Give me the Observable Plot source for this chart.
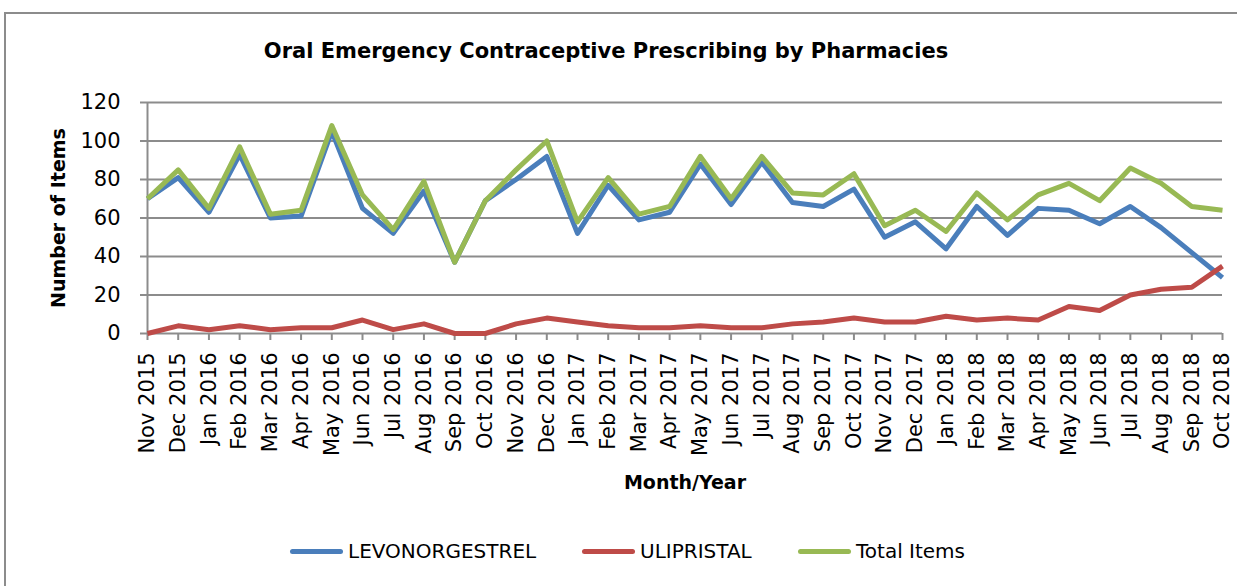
<!DOCTYPE html>
<html><head><meta charset="utf-8">
<script src="https://cdn.jsdelivr.net/npm/d3@7"></script>
<script src="https://cdn.jsdelivr.net/npm/@observablehq/plot@0.6"></script>
<style>
body{margin:0;background:#fff;width:1237px;height:586px;overflow:hidden;position:relative;font-family:"DejaVu Sans",sans-serif;}
#frame{position:absolute;left:4px;top:12px;width:1260px;height:600px;border:2px solid #8c8c8c;box-sizing:border-box;z-index:2;pointer-events:none;}
#wrap{position:absolute;left:0;top:0;width:1237px;z-index:1;}
#title{height:85px;box-sizing:border-box;padding-top:39px;width:1212px;text-align:center;font:bold 21px "DejaVu Sans",sans-serif;line-height:24px;color:#000;}
#chart svg{display:block;}
#legend{position:relative;height:76px;}
.item{position:absolute;top:29px;display:flex;align-items:center;font-size:20px;line-height:24px;color:#000;white-space:nowrap;}
.sw{width:53px;height:5px;border-radius:3px;margin-right:5px;}
</style></head>
<body>
<div id="frame"></div>
<div id="wrap">
<div id="title">Oral Emergency Contraceptive Prescribing by Pharmacies</div>
<div id="chart"></div>
<div id="legend"></div>
</div>
<script>
const months = ["Nov 2015","Dec 2015","Jan 2016","Feb 2016","Mar 2016","Apr 2016","May 2016","Jun 2016","Jul 2016","Aug 2016","Sep 2016","Oct 2016","Nov 2016","Dec 2016","Jan 2017","Feb 2017","Mar 2017","Apr 2017","May 2017","Jun 2017","Jul 2017","Aug 2017","Sep 2017","Oct 2017","Nov 2017","Dec 2017","Jan 2018","Feb 2018","Mar 2018","Apr 2018","May 2018","Jun 2018","Jul 2018","Aug 2018","Sep 2018","Oct 2018"];
const levonorgestrel = [70,81,63,93,60,61,105,65,52,74,37,69,80,92,52,77,59,63,88,67,89,68,66,75,50,58,44,66,51,65,64,57,66,55,42,29];
const ulipristal = [0,4,2,4,2,3,3,7,2,5,0,0,5,8,6,4,3,3,4,3,3,5,6,8,6,6,9,7,8,7,14,12,20,23,24,35];
const totalItems = [70,85,65,97,62,64,108,72,54,79,37,69,85,100,58,81,62,66,92,70,92,73,72,83,56,64,53,73,59,72,78,69,86,78,66,64];
const seriesNames = ["LEVONORGESTREL","ULIPRISTAL","Total Items"];
const seriesColors = ["#4a7ebb","#be4b48","#98b954"];
const yTicks = [0,20,40,60,80,100,120];
const xLabel = "Month/Year";
const yLabel = "Number of Items";

const seriesValues = [levonorgestrel, ulipristal, totalItems];
const rows = seriesNames.flatMap((s, k) => months.map((m, i) => ({month: m, series: s, value: seriesValues[k][i]})));

const grey = "#8c8c8c";
const chart = Plot.plot({
  width: 1237, height: 425,
  marginTop: 17, marginBottom: 177, marginLeft: 147, marginRight: 15,
  style: {fontFamily: "DejaVu Sans, sans-serif", fontSize: "21px", color: "#000", overflow: "visible"},
  x: {type: "point", domain: months, padding: 0, round: false},
  y: {domain: [0, 120]},
  color: {domain: seriesNames, range: seriesColors},
  marks: [
    Plot.gridY(yTicks, {stroke: grey, strokeOpacity: 1, strokeWidth: 2}),
    Plot.ruleX([months[0]], {stroke: grey, strokeWidth: 2}),
    Plot.axisY(yTicks, {tickSize: 7, tickPadding: 20, stroke: grey, strokeWidth: 2, label: null, fontSize: 21}),
    Plot.axisX({tickRotate: -90, tickSize: 7, tickPadding: 12, stroke: grey, strokeWidth: 2, label: null, fontSize: 21}),
    Plot.line(rows, {x: "month", y: "value", z: "series", stroke: "series", strokeWidth: 5, strokeLinejoin: "round", strokeLinecap: "butt"}),
    Plot.text([xLabel], {text: d => d, frameAnchor: "bottom", dy: 155, fontWeight: "bold", fontSize: 19}),
    Plot.text([yLabel], {text: d => d, frameAnchor: "left", textAnchor: "middle", lineAnchor: "middle", dx: -89, rotate: -90, fontWeight: "bold", fontSize: 19})
  ]
});
document.getElementById("chart").appendChild(chart);

const legendLeft = [290, 582, 798];
const legend = document.getElementById("legend");
seriesNames.forEach((name, k) => {
  const item = document.createElement("div");
  item.className = "item";
  item.style.left = legendLeft[k] + "px";
  const sw = document.createElement("span");
  sw.className = "sw";
  sw.style.background = seriesColors[k];
  const label = document.createElement("span");
  label.textContent = name;
  item.appendChild(sw);
  item.appendChild(label);
  legend.appendChild(item);
});
</script>
</body></html>
